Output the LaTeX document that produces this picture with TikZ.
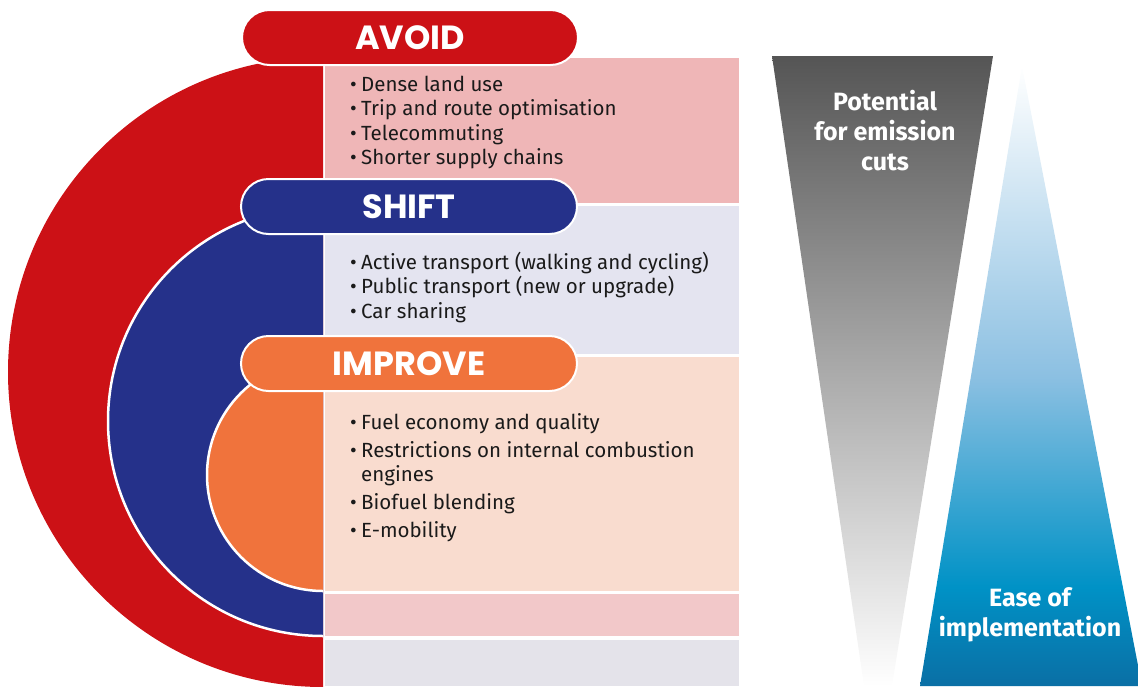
\documentclass[tikz,border=0pt]{standalone}
\usepackage{fontspec}
\setmainfont{Fira Sans}
\newfontfamily\headfont{Poppins}
\definecolor{avred}{HTML}{CC1116}
\definecolor{avblue}{HTML}{25318A}
\definecolor{avorange}{HTML}{F0733C}
\definecolor{avoidbg}{HTML}{EFB6B7}
\definecolor{shiftbg}{HTML}{E4E4F0}
\definecolor{improvebg}{HTML}{F9DCCF}
\definecolor{pinkbg}{HTML}{F2C8C9}
\definecolor{greybg}{HTML}{E4E3EA}
\definecolor{textdark}{HTML}{1A1A1A}
\definecolor{trigrey}{HTML}{555555}
\definecolor{easeA}{HTML}{0A6FA5}
\definecolor{easeB}{HTML}{0092C6}
\definecolor{easeC}{HTML}{8CC0E2}
\pgfdeclareverticalshading{easeshade}{100bp}{color(0bp)=(easeA); color(25bp)=(easeA); color(33bp)=(easeB); color(50bp)=(easeC); color(75bp)=(white); color(100bp)=(white)}
\begin{document}
\begin{tikzpicture}[x=1pt,y=-1pt,
  pill/.style={draw=white, line width=2pt, rounded corners=27.5pt, minimum width=336pt, minimum height=55pt, inner sep=0pt, text=white, font=\headfont\bfseries\fontsize{33.5}{33.5}\selectfont},
  bitem/.style={anchor=base west, inner sep=0pt, text=textdark, font=\fontsize{20.5}{20.5}\selectfont},
  tritext/.style={text=white, align=center, inner sep=0pt, font=\bfseries\fontsize{25}{30}\selectfont}]
\useasboundingbox (0,0) rectangle (1138,686);
% background panels
\fill[avoidbg] (325,58) rectangle (739,203);
\fill[shiftbg] (325,206) rectangle (739,354);
\fill[improvebg] (325,357) rectangle (739,591);
\fill[pinkbg] (325,594) rectangle (739,636);
\fill[greybg] (325,640) rectangle (739,686);
% half discs
\begin{scope}
\clip (0,0) rectangle (323,686);
\fill[avred] (323,372) circle[radius=315pt];
\filldraw[fill=avblue, draw=white, line width=2.5pt] (323,421) circle[radius=215pt];
\filldraw[fill=avorange, draw=white, line width=2.5pt] (323,475) circle[radius=116pt];
\end{scope}
% headers
\node[pill, fill=avred] (avoid) at (410,37.5) {AVOID};
\node[pill, fill=avblue] (shift) at (409,206.5) {SHIFT};
\node[pill, fill=avorange] (improve) at (409,363.5) {IMPROVE};
% lists
\node[bitem] (a1) at (350,91) {\makebox[11pt][l]{\textbullet}Dense land use};
\node[bitem] (a2) at (350,115.5) {\makebox[11pt][l]{\textbullet}Trip and route optimisation};
\node[bitem] (a3) at (350,140) {\makebox[11pt][l]{\textbullet}Telecommuting};
\node[bitem] (a4) at (350,164.5) {\makebox[11pt][l]{\textbullet}Shorter supply chains};
\node[bitem] (s1) at (350,269) {\makebox[11pt][l]{\textbullet}Active transport (walking and cycling)};
\node[bitem] (s2) at (350,293.5) {\makebox[11pt][l]{\textbullet}Public transport (new or upgrade)};
\node[bitem] (s3) at (350,318) {\makebox[11pt][l]{\textbullet}Car sharing};
\node[bitem] (i1) at (350,429) {\makebox[11pt][l]{\textbullet}Fuel economy and quality};
\node[bitem] (i2) at (350,457) {\makebox[11pt][l]{\textbullet}Restrictions on internal combustion};
\node[bitem] (i2b) at (361,481) {engines};
\node[bitem] (i3) at (350,509) {\makebox[11pt][l]{\textbullet}Biofuel blending};
\node[bitem] (i4) at (350,537) {\makebox[11pt][l]{\textbullet}E-mobility};
% triangles
\shade[top color=trigrey, bottom color=white] (772,56) -- (993,56) -- (892,686) -- (864,686) -- cycle;
\shade[shading=easeshade] (1022,66) -- (1142,686) -- (920,686) -- cycle;
\node[tritext] (potential) at (885,131) {Potential\\for emission\\cuts};
\node[tritext] (ease) at (1030,615) {Ease of\\implementation};
\end{tikzpicture}
\end{document}
